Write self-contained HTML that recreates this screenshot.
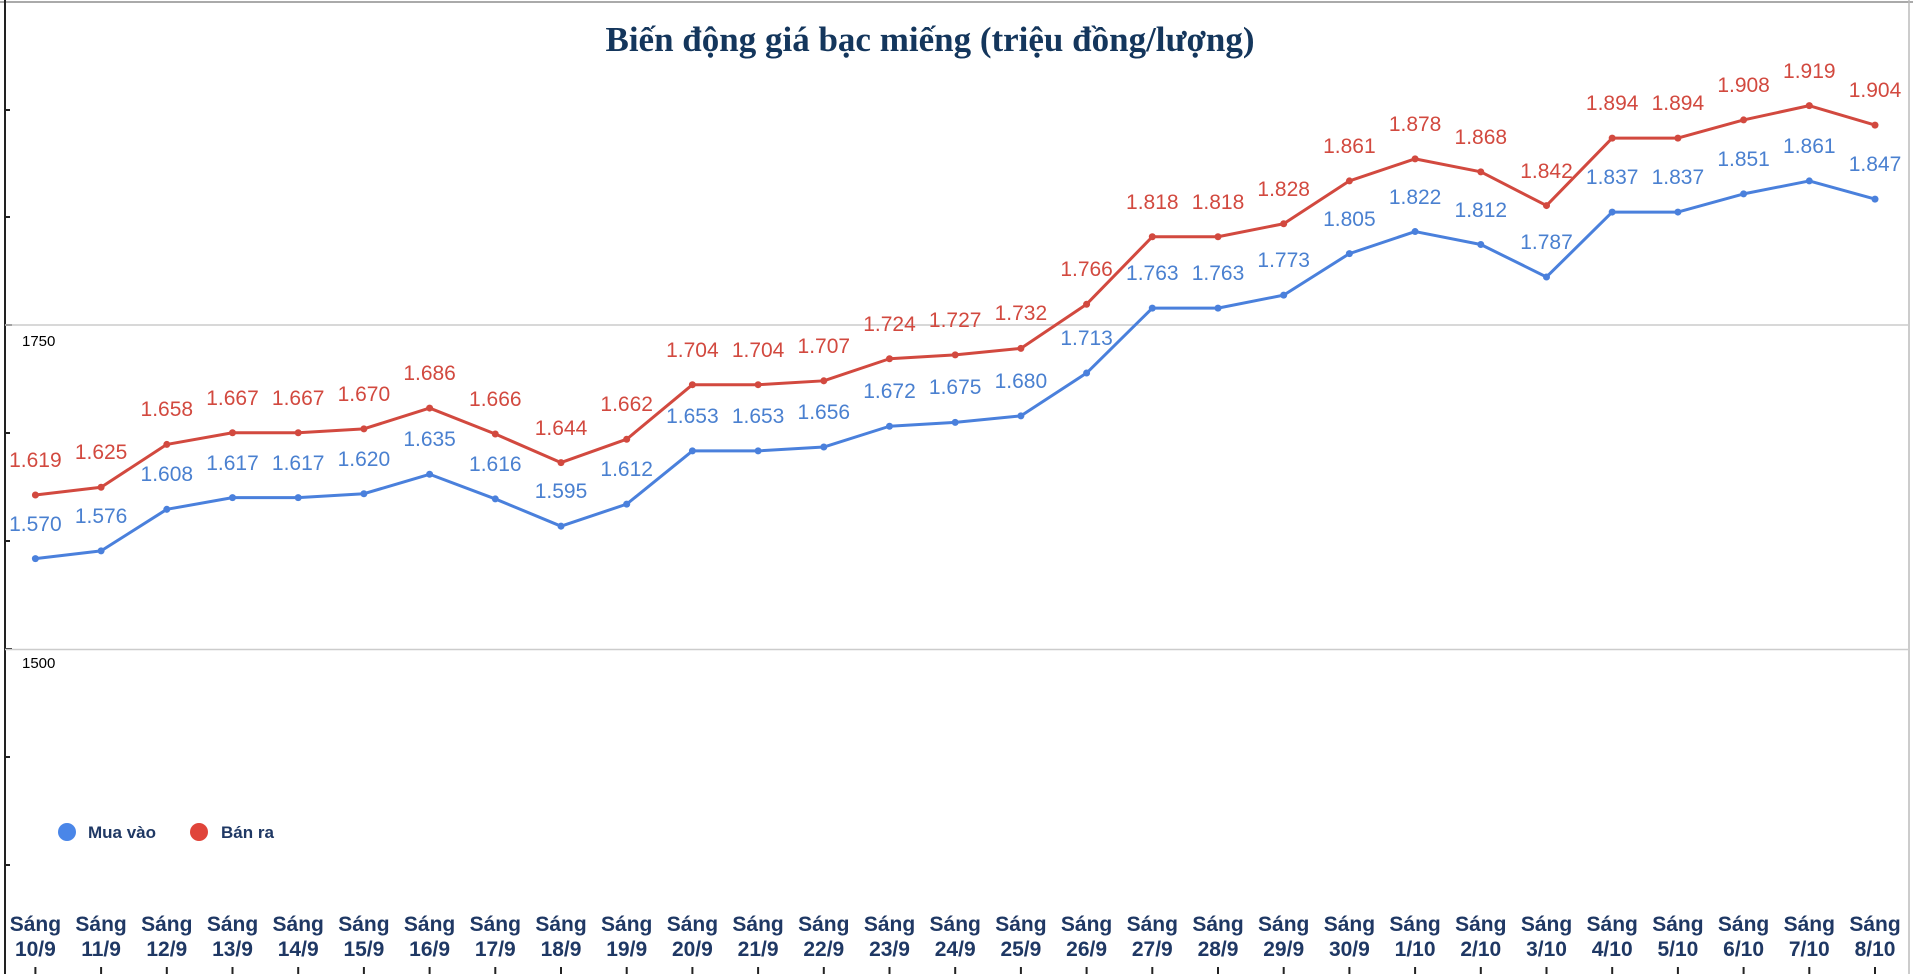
<!DOCTYPE html>
<html><head><meta charset="utf-8"><style>
html,body{margin:0;padding:0;background:#fff;}
svg{display:block;}
.r{fill:#d2493f;font:21px "Liberation Sans",sans-serif;text-anchor:middle;}
.b{fill:#4a80d0;font:21px "Liberation Sans",sans-serif;text-anchor:middle;}
.x{fill:#1f3864;font:bold 21px "Liberation Sans",sans-serif;text-anchor:middle;}
.y{fill:#000;font:15px "Liberation Sans",sans-serif;}
</style></head><body>
<svg width="1913" height="974" viewBox="0 0 1913 974" xmlns="http://www.w3.org/2000/svg">
<rect x="0" y="0" width="1913" height="974" fill="#fff"/>
<line x1="0" y1="2" x2="1913" y2="2" stroke="#aaa" stroke-width="2"/>
<line x1="5" y1="0" x2="5" y2="974" stroke="#222" stroke-width="2"/>
<line x1="1909" y1="0" x2="1909" y2="974" stroke="#bbb" stroke-width="1.5"/>
<g stroke="#222" stroke-width="2">
<line x1="5" y1="110" x2="10" y2="110"/><line x1="5" y1="217" x2="10" y2="217"/><line x1="5" y1="325" x2="12" y2="325"/><line x1="5" y1="433" x2="10" y2="433"/><line x1="5" y1="541" x2="10" y2="541"/><line x1="5" y1="649" x2="12" y2="649"/><line x1="5" y1="757" x2="10" y2="757"/><line x1="5" y1="865" x2="10" y2="865"/>
</g>
<line x1="5" y1="325" x2="1909" y2="325" stroke="#ccc" stroke-width="1.5"/>
<line x1="5" y1="649.5" x2="1909" y2="649.5" stroke="#ccc" stroke-width="1.5"/>
<text class="y" x="22" y="346">1750</text>
<text class="y" x="22" y="668">1500</text>
<text x="930" y="51" text-anchor="middle" style="font:bold 35px 'Liberation Serif',serif;fill:#14365c">Biến động giá bạc miếng (triệu đồng/lượng)</text>
<g transform="translate(0,325) scale(1,-1.298) translate(0,-1750)">
<polyline fill="none" stroke="#d2493f" stroke-width="3" vector-effect="non-scaling-stroke" stroke-linejoin="round" points="35.4,1619 101.1,1625 166.8,1658 232.5,1667 298.2,1667 363.9,1670 429.6,1686 495.3,1666 561,1644 626.7,1662 692.4,1704 758.1,1704 823.8,1707 889.5,1724 955.2,1727 1020.9,1732 1086.6,1766 1152.3,1818 1218,1818 1283.7,1828 1349.4,1861 1415.1,1878 1480.8,1868 1546.5,1842 1612.2,1894 1677.9,1894 1743.6,1908 1809.3,1919 1875,1904"/>
<polyline fill="none" stroke="#4a80dc" stroke-width="3" vector-effect="non-scaling-stroke" stroke-linejoin="round" points="35.4,1570 101.1,1576 166.8,1608 232.5,1617 298.2,1617 363.9,1620 429.6,1635 495.3,1616 561,1595 626.7,1612 692.4,1653 758.1,1653 823.8,1656 889.5,1672 955.2,1675 1020.9,1680 1086.6,1713 1152.3,1763 1218,1763 1283.7,1773 1349.4,1805 1415.1,1822 1480.8,1812 1546.5,1787 1612.2,1837 1677.9,1837 1743.6,1851 1809.3,1861 1875,1847"/>
<g fill="#d2493f">
<ellipse cx="35.4" cy="1619" rx="3.5" ry="2.7"/><ellipse cx="101.1" cy="1625" rx="3.5" ry="2.7"/><ellipse cx="166.8" cy="1658" rx="3.5" ry="2.7"/><ellipse cx="232.5" cy="1667" rx="3.5" ry="2.7"/><ellipse cx="298.2" cy="1667" rx="3.5" ry="2.7"/><ellipse cx="363.9" cy="1670" rx="3.5" ry="2.7"/><ellipse cx="429.6" cy="1686" rx="3.5" ry="2.7"/><ellipse cx="495.3" cy="1666" rx="3.5" ry="2.7"/><ellipse cx="561" cy="1644" rx="3.5" ry="2.7"/><ellipse cx="626.7" cy="1662" rx="3.5" ry="2.7"/><ellipse cx="692.4" cy="1704" rx="3.5" ry="2.7"/><ellipse cx="758.1" cy="1704" rx="3.5" ry="2.7"/><ellipse cx="823.8" cy="1707" rx="3.5" ry="2.7"/><ellipse cx="889.5" cy="1724" rx="3.5" ry="2.7"/><ellipse cx="955.2" cy="1727" rx="3.5" ry="2.7"/><ellipse cx="1020.9" cy="1732" rx="3.5" ry="2.7"/><ellipse cx="1086.6" cy="1766" rx="3.5" ry="2.7"/><ellipse cx="1152.3" cy="1818" rx="3.5" ry="2.7"/><ellipse cx="1218" cy="1818" rx="3.5" ry="2.7"/><ellipse cx="1283.7" cy="1828" rx="3.5" ry="2.7"/><ellipse cx="1349.4" cy="1861" rx="3.5" ry="2.7"/><ellipse cx="1415.1" cy="1878" rx="3.5" ry="2.7"/><ellipse cx="1480.8" cy="1868" rx="3.5" ry="2.7"/><ellipse cx="1546.5" cy="1842" rx="3.5" ry="2.7"/><ellipse cx="1612.2" cy="1894" rx="3.5" ry="2.7"/><ellipse cx="1677.9" cy="1894" rx="3.5" ry="2.7"/><ellipse cx="1743.6" cy="1908" rx="3.5" ry="2.7"/><ellipse cx="1809.3" cy="1919" rx="3.5" ry="2.7"/><ellipse cx="1875" cy="1904" rx="3.5" ry="2.7"/>
</g>
<g fill="#4a80dc">
<ellipse cx="35.4" cy="1570" rx="3.5" ry="2.7"/><ellipse cx="101.1" cy="1576" rx="3.5" ry="2.7"/><ellipse cx="166.8" cy="1608" rx="3.5" ry="2.7"/><ellipse cx="232.5" cy="1617" rx="3.5" ry="2.7"/><ellipse cx="298.2" cy="1617" rx="3.5" ry="2.7"/><ellipse cx="363.9" cy="1620" rx="3.5" ry="2.7"/><ellipse cx="429.6" cy="1635" rx="3.5" ry="2.7"/><ellipse cx="495.3" cy="1616" rx="3.5" ry="2.7"/><ellipse cx="561" cy="1595" rx="3.5" ry="2.7"/><ellipse cx="626.7" cy="1612" rx="3.5" ry="2.7"/><ellipse cx="692.4" cy="1653" rx="3.5" ry="2.7"/><ellipse cx="758.1" cy="1653" rx="3.5" ry="2.7"/><ellipse cx="823.8" cy="1656" rx="3.5" ry="2.7"/><ellipse cx="889.5" cy="1672" rx="3.5" ry="2.7"/><ellipse cx="955.2" cy="1675" rx="3.5" ry="2.7"/><ellipse cx="1020.9" cy="1680" rx="3.5" ry="2.7"/><ellipse cx="1086.6" cy="1713" rx="3.5" ry="2.7"/><ellipse cx="1152.3" cy="1763" rx="3.5" ry="2.7"/><ellipse cx="1218" cy="1763" rx="3.5" ry="2.7"/><ellipse cx="1283.7" cy="1773" rx="3.5" ry="2.7"/><ellipse cx="1349.4" cy="1805" rx="3.5" ry="2.7"/><ellipse cx="1415.1" cy="1822" rx="3.5" ry="2.7"/><ellipse cx="1480.8" cy="1812" rx="3.5" ry="2.7"/><ellipse cx="1546.5" cy="1787" rx="3.5" ry="2.7"/><ellipse cx="1612.2" cy="1837" rx="3.5" ry="2.7"/><ellipse cx="1677.9" cy="1837" rx="3.5" ry="2.7"/><ellipse cx="1743.6" cy="1851" rx="3.5" ry="2.7"/><ellipse cx="1809.3" cy="1861" rx="3.5" ry="2.7"/><ellipse cx="1875" cy="1847" rx="3.5" ry="2.7"/>
</g>
</g>
<g>
<text class="r" x="35.4" y="467">1.619</text><text class="r" x="101.1" y="459">1.625</text><text class="r" x="166.8" y="416">1.658</text><text class="r" x="232.5" y="405">1.667</text><text class="r" x="298.2" y="405">1.667</text><text class="r" x="363.9" y="401">1.670</text><text class="r" x="429.6" y="380">1.686</text><text class="r" x="495.3" y="406">1.666</text><text class="r" x="561" y="435">1.644</text><text class="r" x="626.7" y="411">1.662</text><text class="r" x="692.4" y="357">1.704</text><text class="r" x="758.1" y="357">1.704</text><text class="r" x="823.8" y="353">1.707</text><text class="r" x="889.5" y="331">1.724</text><text class="r" x="955.2" y="327">1.727</text><text class="r" x="1020.9" y="320">1.732</text><text class="r" x="1086.6" y="276">1.766</text><text class="r" x="1152.3" y="209">1.818</text><text class="r" x="1218" y="209">1.818</text><text class="r" x="1283.7" y="196">1.828</text><text class="r" x="1349.4" y="153">1.861</text><text class="r" x="1415.1" y="131">1.878</text><text class="r" x="1480.8" y="144">1.868</text><text class="r" x="1546.5" y="178">1.842</text><text class="r" x="1612.2" y="110">1.894</text><text class="r" x="1677.9" y="110">1.894</text><text class="r" x="1743.6" y="92">1.908</text><text class="r" x="1809.3" y="78">1.919</text><text class="r" x="1875" y="97">1.904</text>
</g>
<g>
<text class="b" x="35.4" y="531">1.570</text><text class="b" x="101.1" y="523">1.576</text><text class="b" x="166.8" y="481">1.608</text><text class="b" x="232.5" y="470">1.617</text><text class="b" x="298.2" y="470">1.617</text><text class="b" x="363.9" y="466">1.620</text><text class="b" x="429.6" y="446">1.635</text><text class="b" x="495.3" y="471">1.616</text><text class="b" x="561" y="498">1.595</text><text class="b" x="626.7" y="476">1.612</text><text class="b" x="692.4" y="423">1.653</text><text class="b" x="758.1" y="423">1.653</text><text class="b" x="823.8" y="419">1.656</text><text class="b" x="889.5" y="398">1.672</text><text class="b" x="955.2" y="394">1.675</text><text class="b" x="1020.9" y="388">1.680</text><text class="b" x="1086.6" y="345">1.713</text><text class="b" x="1152.3" y="280">1.763</text><text class="b" x="1218" y="280">1.763</text><text class="b" x="1283.7" y="267">1.773</text><text class="b" x="1349.4" y="226">1.805</text><text class="b" x="1415.1" y="204">1.822</text><text class="b" x="1480.8" y="217">1.812</text><text class="b" x="1546.5" y="249">1.787</text><text class="b" x="1612.2" y="184">1.837</text><text class="b" x="1677.9" y="184">1.837</text><text class="b" x="1743.6" y="166">1.851</text><text class="b" x="1809.3" y="153">1.861</text><text class="b" x="1875" y="171">1.847</text>
</g>
<circle cx="67" cy="832" r="9" fill="#4a86e8"/>
<text x="88" y="838" style="font:bold 17px 'Liberation Sans',sans-serif;fill:#1f3864">Mua vào</text>
<circle cx="199" cy="832" r="9" fill="#e0443a"/>
<text x="221" y="838" style="font:bold 17px 'Liberation Sans',sans-serif;fill:#1f3864">Bán ra</text>
<g>
<text class="x" x="35.4" y="931">Sáng</text><text class="x" x="35.4" y="956">10/9</text>
<text class="x" x="101.1" y="931">Sáng</text><text class="x" x="101.1" y="956">11/9</text>
<text class="x" x="166.8" y="931">Sáng</text><text class="x" x="166.8" y="956">12/9</text>
<text class="x" x="232.5" y="931">Sáng</text><text class="x" x="232.5" y="956">13/9</text>
<text class="x" x="298.2" y="931">Sáng</text><text class="x" x="298.2" y="956">14/9</text>
<text class="x" x="363.9" y="931">Sáng</text><text class="x" x="363.9" y="956">15/9</text>
<text class="x" x="429.6" y="931">Sáng</text><text class="x" x="429.6" y="956">16/9</text>
<text class="x" x="495.3" y="931">Sáng</text><text class="x" x="495.3" y="956">17/9</text>
<text class="x" x="561" y="931">Sáng</text><text class="x" x="561" y="956">18/9</text>
<text class="x" x="626.7" y="931">Sáng</text><text class="x" x="626.7" y="956">19/9</text>
<text class="x" x="692.4" y="931">Sáng</text><text class="x" x="692.4" y="956">20/9</text>
<text class="x" x="758.1" y="931">Sáng</text><text class="x" x="758.1" y="956">21/9</text>
<text class="x" x="823.8" y="931">Sáng</text><text class="x" x="823.8" y="956">22/9</text>
<text class="x" x="889.5" y="931">Sáng</text><text class="x" x="889.5" y="956">23/9</text>
<text class="x" x="955.2" y="931">Sáng</text><text class="x" x="955.2" y="956">24/9</text>
<text class="x" x="1020.9" y="931">Sáng</text><text class="x" x="1020.9" y="956">25/9</text>
<text class="x" x="1086.6" y="931">Sáng</text><text class="x" x="1086.6" y="956">26/9</text>
<text class="x" x="1152.3" y="931">Sáng</text><text class="x" x="1152.3" y="956">27/9</text>
<text class="x" x="1218" y="931">Sáng</text><text class="x" x="1218" y="956">28/9</text>
<text class="x" x="1283.7" y="931">Sáng</text><text class="x" x="1283.7" y="956">29/9</text>
<text class="x" x="1349.4" y="931">Sáng</text><text class="x" x="1349.4" y="956">30/9</text>
<text class="x" x="1415.1" y="931">Sáng</text><text class="x" x="1415.1" y="956">1/10</text>
<text class="x" x="1480.8" y="931">Sáng</text><text class="x" x="1480.8" y="956">2/10</text>
<text class="x" x="1546.5" y="931">Sáng</text><text class="x" x="1546.5" y="956">3/10</text>
<text class="x" x="1612.2" y="931">Sáng</text><text class="x" x="1612.2" y="956">4/10</text>
<text class="x" x="1677.9" y="931">Sáng</text><text class="x" x="1677.9" y="956">5/10</text>
<text class="x" x="1743.6" y="931">Sáng</text><text class="x" x="1743.6" y="956">6/10</text>
<text class="x" x="1809.3" y="931">Sáng</text><text class="x" x="1809.3" y="956">7/10</text>
<text class="x" x="1875" y="931">Sáng</text><text class="x" x="1875" y="956">8/10</text>
</g>
<g stroke="#222" stroke-width="2">
<line x1="35.4" y1="967" x2="35.4" y2="974"/><line x1="101.1" y1="967" x2="101.1" y2="974"/><line x1="166.8" y1="967" x2="166.8" y2="974"/><line x1="232.5" y1="967" x2="232.5" y2="974"/><line x1="298.2" y1="967" x2="298.2" y2="974"/><line x1="363.9" y1="967" x2="363.9" y2="974"/><line x1="429.6" y1="967" x2="429.6" y2="974"/><line x1="495.3" y1="967" x2="495.3" y2="974"/><line x1="561" y1="967" x2="561" y2="974"/><line x1="626.7" y1="967" x2="626.7" y2="974"/><line x1="692.4" y1="967" x2="692.4" y2="974"/><line x1="758.1" y1="967" x2="758.1" y2="974"/><line x1="823.8" y1="967" x2="823.8" y2="974"/><line x1="889.5" y1="967" x2="889.5" y2="974"/><line x1="955.2" y1="967" x2="955.2" y2="974"/><line x1="1020.9" y1="967" x2="1020.9" y2="974"/><line x1="1086.6" y1="967" x2="1086.6" y2="974"/><line x1="1152.3" y1="967" x2="1152.3" y2="974"/><line x1="1218" y1="967" x2="1218" y2="974"/><line x1="1283.7" y1="967" x2="1283.7" y2="974"/><line x1="1349.4" y1="967" x2="1349.4" y2="974"/><line x1="1415.1" y1="967" x2="1415.1" y2="974"/><line x1="1480.8" y1="967" x2="1480.8" y2="974"/><line x1="1546.5" y1="967" x2="1546.5" y2="974"/><line x1="1612.2" y1="967" x2="1612.2" y2="974"/><line x1="1677.9" y1="967" x2="1677.9" y2="974"/><line x1="1743.6" y1="967" x2="1743.6" y2="974"/><line x1="1809.3" y1="967" x2="1809.3" y2="974"/><line x1="1875" y1="967" x2="1875" y2="974"/>
</g>
</svg>
</body></html>
